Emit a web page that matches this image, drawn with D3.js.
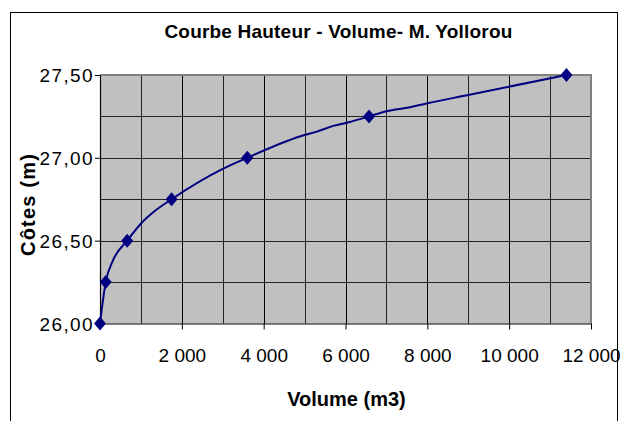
<!DOCTYPE html>
<html>
<head>
<meta charset="utf-8">
<script src="https://cdn.jsdelivr.net/npm/d3@7"></script>
<style>
  body { margin: 0; background: #fff; }
  svg { display: block; font-family: "Liberation Sans", Arial, sans-serif; }
</style>
</head>
<body>
<svg id="chart" width="621" height="421"></svg>
<script>
'use strict';

// Points marqués (diamants)
var markVolume = [0, 140, 665, 1750, 3600, 6575, 11400];
var markCote = [26.00, 26.25, 26.50, 26.75, 27.00, 27.25, 27.50];

// Courbe détaillée
var curveVolume = [0, 140, 325, 665, 1020, 1345, 1750, 3000, 3600, 4900, 5300, 5700, 6100, 6575, 7000, 7580, 7980, 8970, 11400];
var curveCote = [26.00, 26.25, 26.385, 26.50, 26.608, 26.68, 26.75, 26.933, 27.00, 27.13, 27.158, 27.193, 27.216, 27.25, 27.281, 27.305, 27.328, 27.378, 27.50];

var xTicks = [0, 2000, 4000, 6000, 8000, 10000, 12000];
var yTicks = [26.00, 26.50, 27.00, 27.50];

var svg = d3.select('#chart');

var pLeft = 100, pRight = 591, pTop = 75, pBottom = 323.5;

var x = d3.scaleLinear().domain([0, 12000]).range([pLeft, pRight]);
var y = d3.scaleLinear().domain([26, 27.5]).range([pBottom, pTop]);

var fmtX = function(d){ return d3.format(',')(d).replace(/,/g, ' '); };
var fmtY = function(d){ return d.toFixed(2).replace('.', ','); };

//Cadre du graphique
svg.append('rect')
	.attr('x', 10.5).attr('y', 12.5)
	.attr('width', 607).attr('height', 420)
	.attr('fill', '#fff').attr('stroke', '#000').attr('stroke-width', 1);

//Titre
svg.append('text')
	.attr('x', 338.5).attr('y', 38)
	.attr('text-anchor', 'middle')
	.attr('font-size', 19).attr('font-weight', 'bold')
	.attr('letter-spacing', 0.2)
	.text('Courbe Hauteur - Volume- M. Yollorou');

//Zone de tracé
svg.append('rect')
	.attr('x', pLeft).attr('y', pTop)
	.attr('width', pRight - pLeft).attr('height', pBottom - pTop)
	.attr('fill', '#c0c0c0');

//Quadrillage
var grid = svg.append('g');
d3.range(1000, 12000, 1000).forEach(function(v){
	grid.append('line')
		.attr('x1', Math.round(x(v)) + 0.5).attr('x2', Math.round(x(v)) + 0.5)
		.attr('y1', pTop).attr('y2', pBottom)
		.attr('stroke', v % 2000 === 0 ? '#000' : '#222').attr('stroke-width', 1);
});
d3.range(26.25, 27.5, 0.25).forEach(function(v){
	grid.append('line')
		.attr('x1', pLeft).attr('x2', pRight)
		.attr('y1', Math.round(y(v)) + 0.5).attr('y2', Math.round(y(v)) + 0.5)
		.attr('stroke', '#222').attr('stroke-width', 1);
});

//Bordure grise haut/droite
svg.append('path')
	.attr('d', 'M' + pLeft + ',' + pTop + 'H' + pRight + 'V' + pBottom)
	.attr('fill', 'none').attr('stroke', '#808080').attr('stroke-width', 2);

//Axes
var xAxis = svg.append('g')
	.attr('transform', 'translate(0,' + pBottom + ')')
	.call(d3.axisBottom(x).tickValues(xTicks).tickFormat(fmtX).tickSize(6).tickSizeOuter(0).tickPadding(0));
var yAxis = svg.append('g')
	.attr('transform', 'translate(' + pLeft + ',0)')
	.call(d3.axisLeft(y).tickValues(yTicks).tickFormat(fmtY).tickSize(5).tickSizeOuter(0).tickPadding(1));

[xAxis, yAxis].forEach(function(ax){
	ax.select('.domain').attr('stroke', '#000').attr('stroke-width', 1.2);
	ax.selectAll('.tick line').attr('stroke', '#000');
	ax.selectAll('.tick text')
		.attr('font-family', '"Liberation Sans", Arial, sans-serif')
		.attr('font-size', 19).attr('fill', '#000');
});
xAxis.selectAll('.tick text').attr('y', 38).attr('dy', null);
yAxis.selectAll('.tick text').attr('dy', '0.36em').attr('letter-spacing', 1.4);

//Titres des axes
svg.append('text')
	.attr('x', 346.5).attr('y', 406)
	.attr('text-anchor', 'middle')
	.attr('font-size', 20).attr('font-weight', 'bold')
	.text('Volume (m3)');
svg.append('text')
	.attr('transform', 'translate(35,204.5) rotate(-90)')
	.attr('text-anchor', 'middle')
	.attr('font-size', 20).attr('font-weight', 'bold')
	.attr('letter-spacing', 1.2)
	.text('Côtes (m)');

//Courbe
var curve = curveVolume.map(function(v, i){ return [v, curveCote[i]]; });
svg.append('path')
	.datum(curve)
	.attr('fill', 'none')
	.attr('stroke', '#000080')
	.attr('stroke-width', 2)
	.attr('d', d3.line().x(function(d){ return x(d[0]); }).y(function(d){ return y(d[1]); }).curve(d3.curveMonotoneX));

//Marqueurs
var marks = markVolume.map(function(v, i){ return [v, markCote[i]]; });
svg.selectAll('.mark')
	.data(marks)
	.enter().append('path')
	.attr('class', 'mark')
	.attr('transform', function(d){ return 'translate(' + x(d[0]) + ',' + y(d[1]) + ')'; })
	.attr('d', 'M0,-7L6,0L0,7L-6,0Z')
	.attr('fill', '#000080');
</script>
</body>
</html>
